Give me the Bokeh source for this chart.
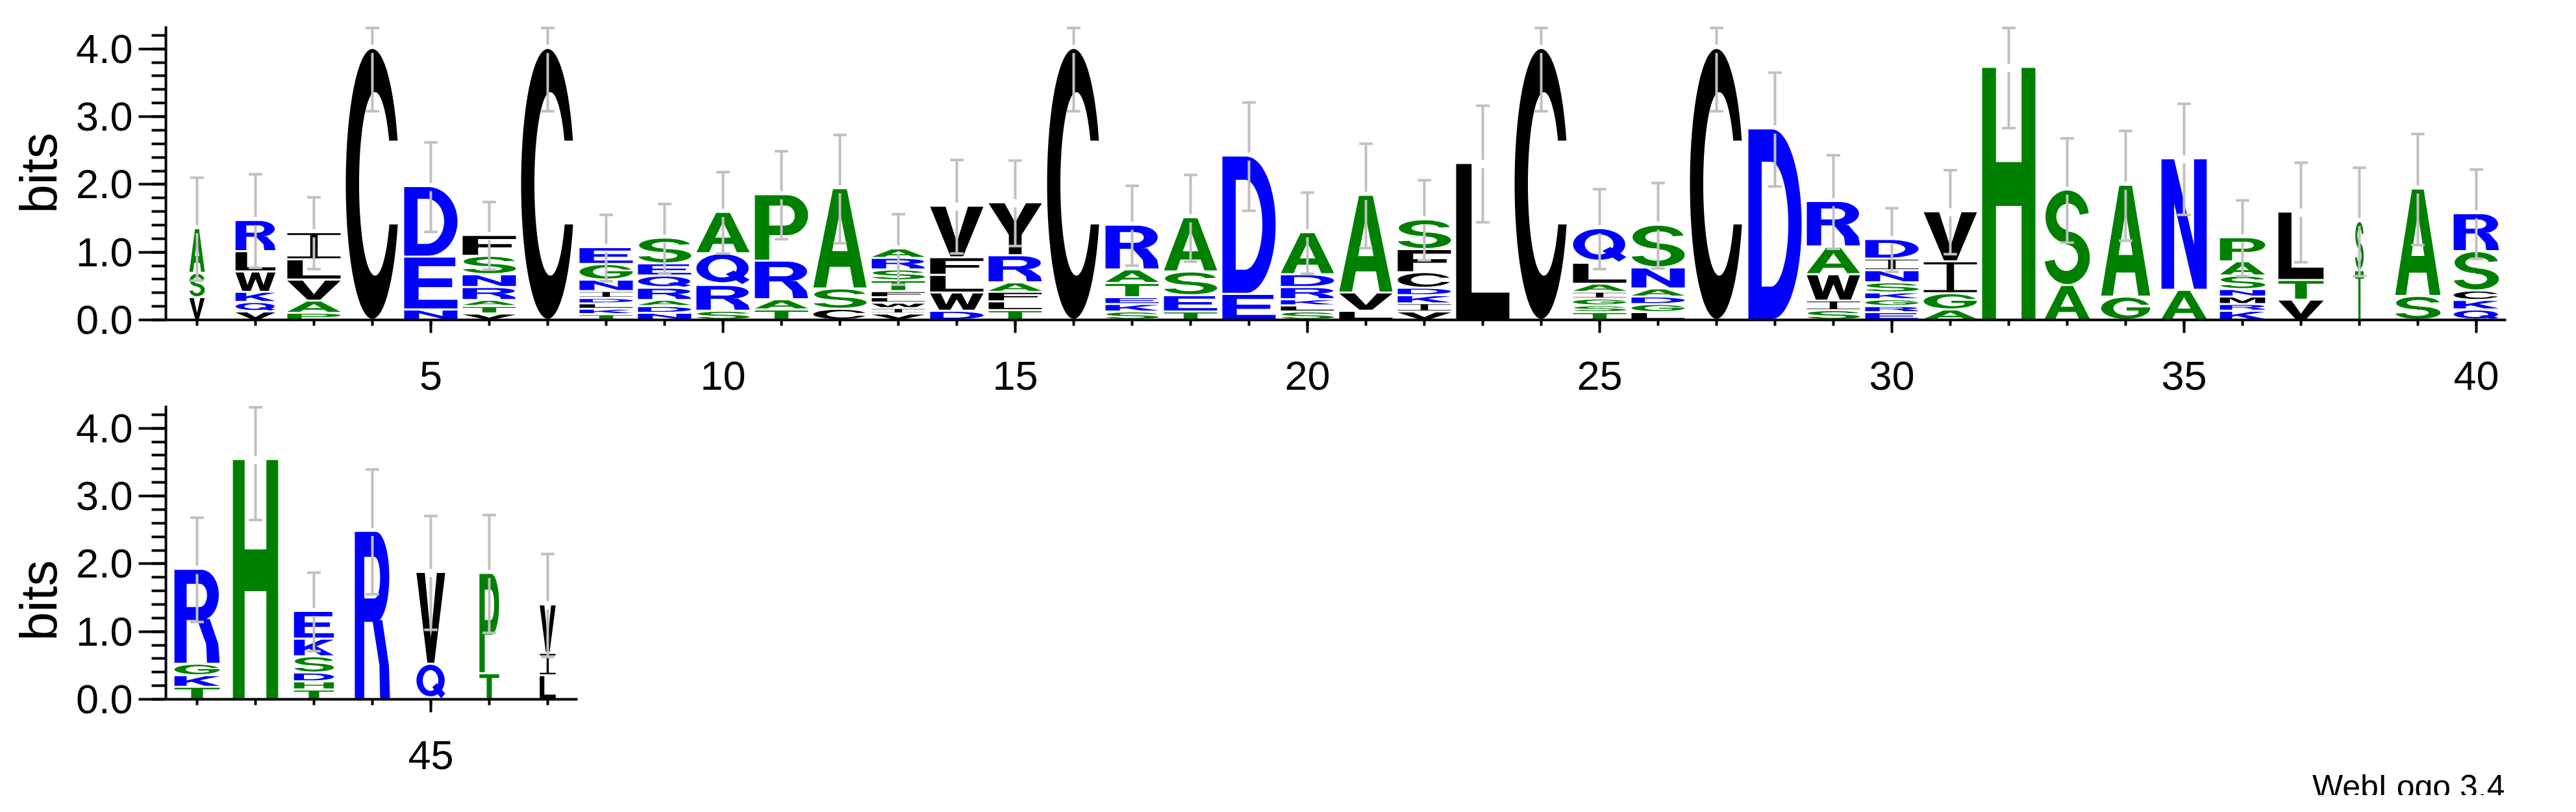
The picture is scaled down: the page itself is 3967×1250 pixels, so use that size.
import numpy as np
from bokeh.plotting import figure
from bokeh.models import Range1d, FixedTicker, NumeralTickFormatter, ColumnDataSource
from bokeh.layouts import column
from bokeh.embed import file_html
from bokeh.resources import INLINE
from bokeh.core.properties import value

# ---------------- data ----------------
positions = list(range(1, 48))
# letters of each stack, bottom -> top
stack_letters = [
    "VSA", "VQKWLR", "PAVLI", "C", "NED", "VTARNSF", "C", "TKLDINGE", "NDARQES", "SRQA",
    "TARP", "CSA", "VIWLFTSRA", "DWLFV", "TLFARY", "C", "SKETAR", "TESA", "ED", "SLKRDA",
    "LVA", "VIKDCFS", "L", "C", "TSGIALQ", "LGDANS", "C", "D", "SIWAR", "ERGKSNID",
    "AGIV", "H", "AS", "GA", "AN", "KRMNSAP", "VTL", "TS", "SA", "QKCSR",
    "TKGR", "H", "THDSKE", "R", "QV", "TP", "LIV",
]
# letter heights in bits, bottom -> top
stack_heights = [
    [0.32, 0.36, 0.66], [0.11, 0.14, 0.15, 0.30, 0.30, 0.46], [0.09, 0.18, 0.31, 0.30, 0.40],
    [4.00], [0.14, 0.78, 1.04], [0.08, 0.11, 0.09, 0.19, 0.19, 0.27, 0.31], [4.00],
    [0.07, 0.08, 0.08, 0.08, 0.10, 0.17, 0.23, 0.25], [0.09, 0.10, 0.09, 0.18, 0.18, 0.18, 0.38],
    [0.12, 0.38, 0.47, 0.61],
    [0.14, 0.15, 0.57, 0.98], [0.15, 0.30, 1.48], [0.08, 0.08, 0.08, 0.08, 0.09, 0.16, 0.16, 0.17, 0.14],
    [0.12, 0.27, 0.26, 0.26, 0.76], [0.13, 0.13, 0.14, 0.14, 0.40, 0.78], [4.00],
    [0.11, 0.11, 0.10, 0.21, 0.20, 0.66], [0.11, 0.24, 0.35, 0.80], [0.37, 2.04],
    [0.11, 0.09, 0.09, 0.18, 0.19, 0.62],
    [0.12, 0.27, 1.44], [0.11, 0.12, 0.12, 0.11, 0.23, 0.34, 0.44], [2.30], [4.00],
    [0.10, 0.10, 0.10, 0.10, 0.12, 0.31, 0.51], [0.10, 0.12, 0.11, 0.12, 0.31, 0.63], [4.00], [2.81],
    [0.13, 0.14, 0.39, 0.41, 0.67], [0.10, 0.09, 0.10, 0.10, 0.15, 0.18, 0.17, 0.29],
    [0.14, 0.24, 0.47, 0.74], [3.72], [0.50, 1.41], [0.33, 1.65], [0.43, 1.94],
    [0.12, 0.10, 0.11, 0.11, 0.20, 0.21, 0.355], [0.285, 0.29, 1.01], [0.72, 0.725], [0.34, 1.585],
    [0.14, 0.14, 0.14, 0.58, 0.56],
    [0.17, 0.17, 0.17, 1.40], [3.53], [0.13, 0.12, 0.13, 0.24, 0.26, 0.41], [2.47], [0.51, 1.355],
    [0.37, 1.48], [0.34, 0.33, 0.715],
]
# relative stack widths (fraction of non-gap sequences)
stack_widths = [
    0.29, 0.75, 1, 1, 1, 1, 1, 1, 1, 1,
    1, 1, 1, 1, 1, 1, 1, 1, 1, 1,
    1, 1, 1, 1, 1, 1, 1, 1, 1, 1,
    1, 1, 0.85, 0.92, 0.85, 0.85, 0.85, 0.16, 0.85, 0.85,
    0.85, 0.85, 0.75, 0.66, 0.54, 0.37, 0.30,
]
# error bar half-sizes (bits)
error_sizes = [
    0.76, 0.69, 0.53, 0.92, 0.66, 0.50, 0.92, 0.49, 0.51, 0.60,
    0.65, 0.80, 0.52, 0.69, 0.63, 0.92, 0.59, 0.64, 0.80, 0.60,
    0.77, 0.59, 0.86, 0.92, 0.59, 0.63, 0.92, 0.84, 0.69, 0.47,
    0.62, 0.89, 0.77, 0.81, 0.82, 0.56, 0.735, 0.80, 0.82, 0.66,
    0.77, 0.885, 0.58, 0.92, 0.84, 0.87, 0.76,
]
row1_positions = positions[:40]
row2_positions = positions[40:]
row1_labels = [5, 10, 15, 20, 25, 30, 35, 40]
row2_labels = [45]
y_ticks = [0, 1, 2, 3, 4]
credit_text = "WebLogo 3.4"

# ---------------- styles ----------------
BLUE, GREEN, BLACK = "#0000FF", "#008000", "#000000"
COLORS = {}
for c in "RKDENQ":
    COLORS[c] = BLUE
for c in "SGHTAP":
    COLORS[c] = GREEN
for c in "YVMCLFIW":
    COLORS[c] = BLACK
FONT = "Liberation Sans"
LETTER_W = 0.911
GAP = 0.03


# ---------------- letter shapes in a unit box ----------------
def arc(cx, cy, rx, ry, a0, a1, n=60):
    t = np.radians(np.linspace(a0, a1, n))
    return list(zip(cx + rx * np.cos(t), cy + ry * np.sin(t)))


def ang(cy, ry, y):
    return float(np.degrees(np.arcsin((y - cy) / ry)))


def rect(x0, y0, x1, y1):
    return [[(x0, y0), (x1, y0), (x1, y1), (x0, y1)]]


def c_ring():
    a_t = ang(0.5, 0.5, 0.66)
    a_b = 360 + ang(0.5, 0.5, 0.35)
    i_t = ang(0.5, 0.34, 0.66)
    i_b = 360 + ang(0.5, 0.34, 0.35)
    return arc(0.5, 0.5, 0.5, 0.5, a_t, a_b) + arc(0.55, 0.5, 0.30, 0.34, i_b, i_t)


def g_ring():
    a_t = ang(0.5, 0.5, 0.66)
    i_t = ang(0.5, 0.34, 0.66)
    i_s = 360 - float(np.degrees(np.arccos((0.76 - 0.55) / 0.30)))
    pts = arc(0.5, 0.5, 0.5, 0.5, a_t, 358)
    pts += [(1.0, 0.54), (0.52, 0.54), (0.52, 0.39), (0.76, 0.39)]
    pts += arc(0.55, 0.5, 0.30, 0.34, i_s, i_t)
    return pts


GLYPHS = {
    "A": [[[(0, 0), (0.37, 1), (0.63, 1), (1, 0), (0.76, 0), (0.69, 0.21), (0.31, 0.21), (0.24, 0)],
           [(0.355, 0.37), (0.645, 0.37), (0.5, 0.77)]]],
    "C": [[c_ring()]],
    "D": [[[(0, 0), (0, 1), (0.45, 1)] + arc(0.45, 0.5, 0.55, 0.5, 90, -90),
           [(0.25, 0.17), (0.25, 0.83), (0.42, 0.83)] + arc(0.42, 0.5, 0.33, 0.33, 90, -90)]],
    "E": [[[(0, 0), (0, 1), (0.96, 1), (0.96, 0.83), (0.27, 0.83), (0.27, 0.59), (0.9, 0.59),
            (0.9, 0.42), (0.27, 0.42), (0.27, 0.17), (1, 0.17), (1, 0)]]],
    "F": [[[(0, 0), (0, 1), (1, 1), (1, 0.83), (0.29, 0.83), (0.29, 0.57), (0.92, 0.57),
            (0.92, 0.40), (0.29, 0.40), (0.29, 0)]]],
    "G": [[g_ring()]],
    "H": [rect(0, 0, 0.26, 1), rect(0.74, 0, 1, 1), rect(0.2, 0.45, 0.8, 0.625)],
    "I": [rect(0, 0.93, 1, 1), rect(0.43, 0, 0.57, 1), rect(0, 0, 1, 0.07)],
    "K": [[[(0, 0), (0, 1), (0.27, 1), (0.27, 0.56), (0.68, 1), (1, 1), (0.56, 0.58), (1, 0),
            (0.67, 0), (0.38, 0.42), (0.27, 0.31), (0.27, 0)]]],
    "L": [[[(0, 0), (0, 1), (0.29, 1), (0.29, 0.17), (1, 0.17), (1, 0)]]],
    "M": [[[(0, 0), (0, 1), (0.3, 1), (0.5, 0.32), (0.7, 1), (1, 1), (1, 0), (0.78, 0), (0.78, 0.76),
            (0.58, 0), (0.42, 0), (0.22, 0.76), (0.22, 0)]]],
    "N": [[[(0, 0), (0, 1), (0.28, 1), (0.72, 0.34), (0.72, 1), (1, 1), (1, 0), (0.72, 0),
            (0.28, 0.66), (0.28, 0)]]],
    "P": [[[(0, 0), (0, 1), (0.6, 1)] + arc(0.6, 0.69, 0.4, 0.31, 90, -90) + [(0.27, 0.38), (0.27, 0)],
           [(0.27, 0.53), (0.27, 0.84), (0.58, 0.84)] + arc(0.58, 0.685, 0.17, 0.155, 90, -90)]],
    "Q": [[arc(0.49, 0.53, 0.49, 0.47, 0, 360), arc(0.49, 0.53, 0.27, 0.31, 0, 360)],
          [[(0.55, 0.33), (0.7, 0.45), (1.0, 0.14), (0.86, 0.0)]]],
    "R": [[[(0, 0), (0, 1), (0.6, 1)] + arc(0.6, 0.73, 0.38, 0.27, 90, -90) + [(0.27, 0.46), (0.27, 0)],
           [(0.27, 0.6), (0.27, 0.85), (0.56, 0.85)] + arc(0.56, 0.725, 0.16, 0.125, 90, -90)],
          [[(0.5, 0.47), (0.78, 0.47), (0.97, 0.2), (1.0, 0.0), (0.72, 0.0), (0.7, 0.2)]]],
    "S": [[arc(0.5, 0.72, 0.48, 0.28, 8, 270) + arc(0.52, 0.72, 0.26, 0.14, 270, 8)],
          [arc(0.5, 0.28, 0.5, 0.28, 90, -172) + arc(0.48, 0.28, 0.26, 0.14, -172, 90)]],
    "T": [[[(0, 1), (1, 1), (1, 0.84), (0.63, 0.84), (0.63, 0), (0.37, 0), (0.37, 0.84), (0, 0.84)]]],
    "V": [[[(0, 1), (0.29, 1), (0.5, 0.28), (0.71, 1), (1, 1), (0.62, 0), (0.38, 0)]]],
    "W": [[[(0, 1), (0.2, 1), (0.3, 0.32), (0.41, 1), (0.59, 1), (0.7, 0.32), (0.8, 1), (1, 1),
            (0.83, 0), (0.62, 0), (0.5, 0.64), (0.38, 0), (0.17, 0)]]],
    "Y": [[[(0, 1), (0.3, 1), (0.5, 0.62), (0.7, 1), (1, 1), (0.62, 0.38), (0.62, 0), (0.38, 0),
            (0.38, 0.38)]]],
}


def letter_source(pos_list):
    xs, ys, cols = [], [], []
    for pos in pos_list:
        i = pos - 1
        w = LETTER_W * stack_widths[i]
        y0 = 0.0
        for k, (ch, h) in enumerate(zip(stack_letters[i], stack_heights[i])):
            bot = y0 + (0.015 if k == 0 else GAP)
            top = y0 + h
            for poly in GLYPHS[ch]:
                rx = [[pos + (u - 0.5) * w for u, v in ring] for ring in poly]
                ry = [[bot + v * (top - bot) for u, v in ring] for ring in poly]
                xs.append([rx])
                ys.append([ry])
                cols.append(COLORS[ch])
            y0 = top
    return ColumnDataSource(dict(xs=xs, ys=ys, color=cols))


def error_sources(pos_list):
    x, lo, lo2, hi2, hi, cl, cr = [], [], [], [], [], [], []
    for pos in pos_list:
        i = pos - 1
        t = sum(stack_heights[i])
        e = error_sizes[i]
        x.append(pos)
        lo.append(t - e)
        lo2.append(t - 0.06)
        hi2.append(t + 0.06)
        hi.append(min(t + e, 4.31))
        cl.append(pos - 0.115)
        cr.append(pos + 0.115)
    return ColumnDataSource(dict(x=x, lo=lo, lo2=lo2, hi2=hi2, hi=hi, cl=cl, cr=cr))


FRAME_W = 3604
FRAME_H = 452
Y_TOP = 4.333
PX_PER_POS = 90.0
PX_PER_BIT = FRAME_H / Y_TOP
X_PAD_LEFT = 0.533          # axis starts this far left of the first position
X_PAD_RIGHT = 0.51          # axis ends this far right of the last position


def make_logo(pos_list, labels, extra_below, b_top, b_bottom):
    x_lo = pos_list[0] - X_PAD_LEFT
    x_hi = x_lo + FRAME_W / PX_PER_POS
    y_lo = -extra_below / PX_PER_BIT
    p = figure(frame_width=FRAME_W, frame_height=FRAME_H + extra_below, title=None,
               x_range=Range1d(x_lo, x_hi), y_range=Range1d(y_lo, Y_TOP),
               output_backend="svg", toolbar_location=None,
               min_border_left=255, min_border_right=92,
               min_border_top=b_top, min_border_bottom=b_bottom)
    p.outline_line_color = None
    p.grid.visible = False
    p.background_fill_color = "white"
    p.border_fill_color = "white"

    p.multi_polygons(xs="xs", ys="ys", fill_color="color", line_color=None,
                     source=letter_source(pos_list))
    es = error_sources(pos_list)
    kw = dict(line_color="#C0C0C0", line_width=4, source=es)
    p.segment(x0="x", y0="lo", x1="x", y1="lo2", **kw)
    p.segment(x0="x", y0="hi2", x1="x", y1="hi", **kw)
    p.segment(x0="cl", y0="lo", x1="cr", y1="lo", **kw)
    p.segment(x0="cl", y0="hi", x1="cr", y1="hi", **kw)

    xa = p.xaxis[0]
    xa.ticker = FixedTicker(ticks=labels, minor_ticks=pos_list)
    xa.bounds = (x_lo, pos_list[-1] + X_PAD_RIGHT)
    if extra_below > 0:
        xa.fixed_location = 0
    xa.axis_line_width = 4
    xa.major_tick_line_width = 4
    xa.minor_tick_line_width = 4
    xa.major_tick_out = 20
    xa.major_tick_in = 0
    xa.minor_tick_out = 9
    xa.minor_tick_in = 0
    xa.major_label_standoff = 44
    xa.major_label_text_font = FONT
    xa.major_label_text_font_size = "63px"
    xa.major_label_text_color = "black"

    ya = p.yaxis[0]
    ya.ticker = FixedTicker(ticks=y_ticks, minor_ticks=[round(0.2 * k, 1) for k in range(22)])
    ya.bounds = (0, Y_TOP)
    ya.formatter = NumeralTickFormatter(format="0.0")
    ya.axis_line_width = 4
    ya.major_tick_line_width = 4
    ya.minor_tick_line_width = 4
    ya.major_tick_out = 42
    ya.major_tick_in = 0
    ya.minor_tick_out = 22
    ya.minor_tick_in = 0
    ya.major_label_standoff = 9
    ya.major_label_text_font = FONT
    ya.major_label_text_font_size = "63px"
    ya.major_label_text_color = "black"
    ya.axis_label = "bits"
    ya.axis_label_text_font = FONT
    ya.axis_label_text_font_size = "80px"
    ya.axis_label_text_font_style = "normal"
    ya.axis_label_text_color = "black"
    ya.axis_label_standoff = 10
    return p


top = make_logo(row1_positions, row1_labels, 0, 40, 120)
bottom = make_logo(row2_positions, row2_labels, 148, 12, 0)

# credit line at the lower right of the second row's frame, baseline ~135 px below its axis
bottom.text(x=[bottom.x_range.end - 2 / PX_PER_POS], y=[-134 / PX_PER_BIT], text=[credit_text],
            text_align="right", text_baseline="alphabetic", text_font=value(FONT),
            text_font_size="50px", text_color="black")

layout = column(top, bottom)
open("out.html", "w").write(file_html(layout, INLINE))
